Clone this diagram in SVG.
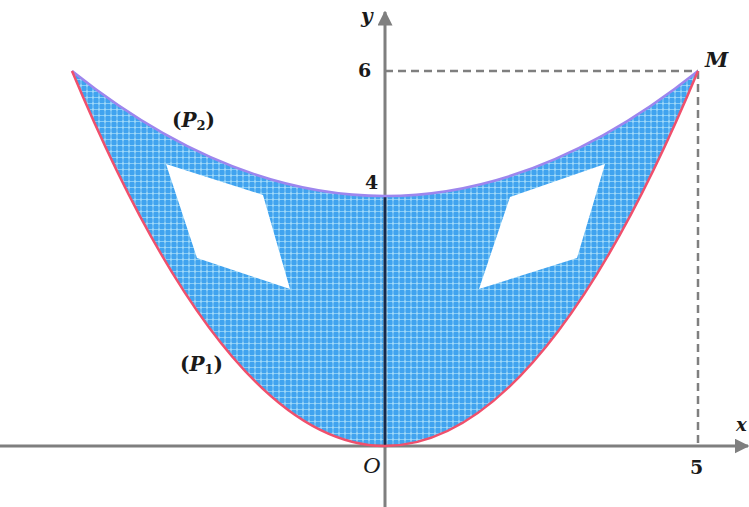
<svg xmlns="http://www.w3.org/2000/svg" width="749" height="507" viewBox="0 0 749 507">
<style>
.lbl{font-family:"DejaVu Serif","Liberation Serif",serif;font-weight:bold;fill:#1a1a1a}
.it{font-style:italic}
.axis{stroke:#7f7f7f;stroke-width:3;fill:none}
.dash{stroke:#7f7f7f;stroke-width:2.5;stroke-dasharray:8 5;fill:none}
</style>
<defs>
<pattern id="tex" width="6" height="6" patternUnits="userSpaceOnUse">
<rect width="6" height="6" fill="#40a3ef"/>
<path d="M0,1.5H6M3,0V6" stroke="#88ccf6" stroke-width="1.1"/>
<rect x="2" y="0.5" width="2" height="2" fill="#a0d9f8"/>
</pattern>
<marker id="arr" viewBox="0 0 10 10" refX="9" refY="5" markerWidth="5" markerHeight="5" markerUnits="strokeWidth" orient="auto">
<path d="M0,0L10,5L0,10Z" fill="#7f7f7f"/>
</marker>
</defs>
<g id="region">
<path d="M72,71 Q385,321 698,71 Q385,821 72,71 Z M166,164 L263,195 L290,289 L197,258 Z M605,164 L510,197 L479,289 L577,258 Z" fill="url(#tex)" fill-rule="evenodd"/>
</g>
<g id="connectors">
<line class="dash" x1="385" y1="71" x2="698" y2="71"/>
<line class="dash" x1="698" y1="71" x2="698" y2="446"/>
<line class="axis" x1="0" y1="446" x2="748" y2="446" marker-end="url(#arr)"/>
<line class="axis" x1="385" y1="507" x2="385" y2="12" marker-end="url(#arr)"/>
<line x1="385" y1="197" x2="385" y2="445" stroke="#15284a" stroke-width="2.5"/>
</g>
<g id="P2">
<path d="M72,71 Q385,321 698,71" fill="none" stroke="#9d86ee" stroke-width="2.5"/>
</g>
<g id="P1">
<path d="M72,71 Q385,821 698,71" fill="none" stroke="#f0506c" stroke-width="2.5"/>
</g>
<g id="labels">
<text class="lbl it" x="361" y="23" font-size="20">y</text>
<text class="lbl" x="358" y="77" font-size="19">6</text>
<text class="lbl" x="365" y="189" font-size="19">4</text>
<text class="lbl it" x="705" y="67" font-size="21">M</text>
<text class="lbl" x="172" y="127" font-size="20">(<tspan class="it">P</tspan><tspan font-size="13" dy="3">2</tspan><tspan dy="-3">)</tspan></text>
<text class="lbl" x="180" y="371" font-size="20">(<tspan class="it">P</tspan><tspan font-size="13" dy="3">1</tspan><tspan dy="-3">)</tspan></text>
<text x="363" y="473" font-size="24" font-family="Liberation Serif,serif" font-style="italic" fill="#1a1a1a">O</text>
<text class="lbl" x="690" y="474" font-size="19">5</text>
<text class="lbl it" x="736" y="431" font-size="18">x</text>
</g>
</svg>
